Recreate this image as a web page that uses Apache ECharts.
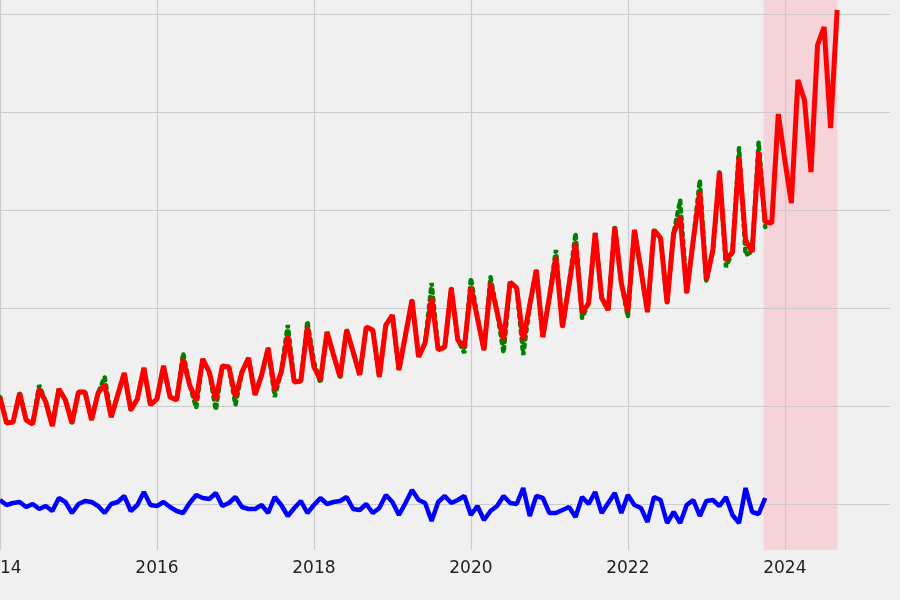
<!DOCTYPE html>
<html><head><meta charset="utf-8">
<script src="https://cdn.jsdelivr.net/npm/echarts@6/dist/echarts.min.js"></script>
<style>html,body{margin:0;padding:0;background:#f0f0f0}#c{width:900px;height:600px}</style>
</head><body><div id="c"></div>
<script>
const startYear = 2014;
const fitted = [107,81,82,111,84,80,115,102,78,115,104,81,
112,112,84,111,119,87,109,131,94,105,136,99,
105,138,107,104,145,119,104,145,132,104,138,137,
107,132,146,109,129,156,114,132,168,122,123,177,
137,124,172,149,127,174,152,129,177,174,127,179,
189,134,169,204,147,161,206,154,157,216,164,157,
217,186,154,221,192,164,222,216,164,199,234,167,
207,247,177,219,261,191,201,271,206,194,277,221,
192,274,234,192,274,266,201,271,287,211,264,312,
224,254,332,244,252,347,264,252,352,282,281,390,
344,301,424,404,332,459,477,376,494];
const actual = [107,81,82,111,84,80,119,102,78,115,104,81,
112,112,84,111,127,87,109,131,94,105,136,99,
105,138,107,104,151,119,96,145,132,94,138,137,
99,132,146,109,129,156,107,132,179,122,123,183,
142,121,172,149,127,174,152,129,177,174,127,179,
189,134,169,204,147,161,221,154,157,216,164,151,
226,186,154,227,192,151,222,216,149,199,234,167,
207,254,177,219,271,186,201,271,206,194,277,221,
187,274,234,192,274,266,201,271,304,211,264,324,
222,254,332,237,252,356,249,252,362,277];
const residual = [4,-1,1,2,-3,0,-5,-2,-7,6,2,-9,0,3,2,-2,-9,0,2,8,-7,-1,12,-1,-2,2,-3,-7,-9,1,9,6,5,11,-2,1,7,-3,-5,-5,-1,-9,7,-1,-12,-4,3,-9,-1,6,0,2,3,7,-5,-6,0,-9,-4,9,
2,-11,1,14,4,1,-17,2,8,1,4,8,-11,-2,-16,-7,-2,8,1,0,16,-12,8,6,-9,-9,-6,-3,-13,7,0,12,-9,1,11,-9,9,-1,-4,-18,7,4,-19,-8,-19,-1,4,-12,3,4,-2,7,-11,-19,16,-8,-10,6];
const forecastBand = [2023.73, 2024.67];
const gridValues = [0, 98, 196, 294, 392, 490];
const xTicks = [2014, 2016, 2018, 2020, 2022, 2024];

const toPairs = arr => arr.map((v, i) => [startYear + i / 12, v]);
const gridStyle = {color: '#cbcbcb', width: 1.2, type: 'solid'};
const chart = echarts.init(document.getElementById('c'));
chart.setOption({
  backgroundColor: '#f0f0f0',
  animation: false,
  grid: {left: 0, right: 10, top: 0, bottom: 50, containLabel: false, outerBoundsMode: 'none'},
  xAxis: {type: 'value', min: 2014, max: 2025.34, interval: 2,
    axisLine: {show: false}, axisTick: {show: false},
    axisLabel: {fontSize: 17, fontFamily: 'DejaVu Sans', color: '#222', margin: 10, showMaxLabel: false,
      formatter: v => xTicks.includes(v) ? String(v) : ''},
    splitLine: {show: false}},
  yAxis: {type: 'value', min: -46, max: 504, axisLabel: {show: false},
    axisLine: {show: false}, axisTick: {show: false}, splitLine: {show: false}},
  series: [
    {type: 'line', data: toPairs(residual), symbol: 'none', z: 3,
     lineStyle: {color: '#0000ff', width: 4.5},
     markLine: {silent: true, symbol: 'none', label: {show: false}, z: 1,
       lineStyle: gridStyle,
       data: gridValues.map(v => ({yAxis: v})).concat(xTicks.map(v => ({xAxis: v})))},
     markArea: {silent: true, itemStyle: {color: 'rgba(248,200,210,0.75)'},
       data: [[{xAxis: forecastBand[0]}, {xAxis: forecastBand[1]}]]}},
    {type: 'line', data: toPairs(actual), symbol: 'none', z: 4,
     lineStyle: {color: '#008000', width: 4.5, type: [3, 5], cap: 'round'}},
    {type: 'line', data: toPairs(fitted), symbol: 'none', z: 5,
     lineStyle: {color: '#ff0000', width: 5}}
  ]
});
</script></body></html>
